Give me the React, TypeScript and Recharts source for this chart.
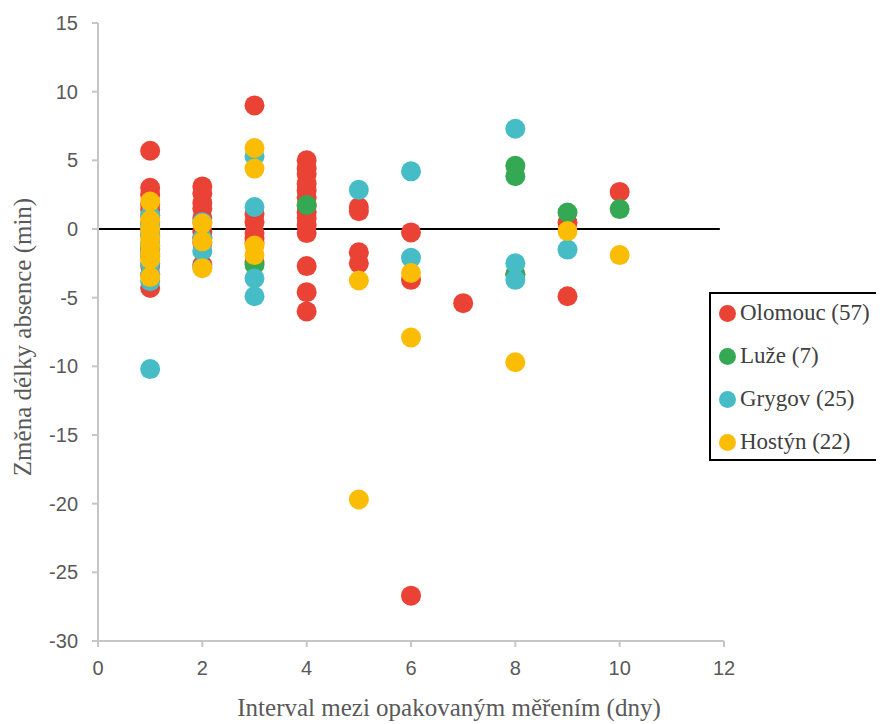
import React from "react";
import { ScatterChart, Scatter, XAxis, YAxis, ReferenceLine, Label } from "recharts";

type P = { x: number; y: number };

const olomouc: P[] = [
  { x: 1, y: 5.7 }, { x: 1, y: 3.0 }, { x: 1, y: 2.5 }, { x: 1, y: 1.8 }, { x: 1, y: 1.4 },
  { x: 1, y: 1.0 }, { x: 1, y: 0.5 }, { x: 1, y: 0.0 }, { x: 1, y: -0.5 }, { x: 1, y: -1.2 },
  { x: 1, y: -1.5 }, { x: 1, y: -2.0 }, { x: 1, y: -2.7 }, { x: 1, y: -3.3 }, { x: 1, y: -4.3 },
  { x: 2, y: 3.1 }, { x: 2, y: 2.6 }, { x: 2, y: 1.9 }, { x: 2, y: 1.5 }, { x: 2, y: 0.8 },
  { x: 2, y: -0.2 }, { x: 2, y: -0.6 }, { x: 2, y: -1.0 }, { x: 2, y: -2.6 },
  { x: 3, y: 9.0 }, { x: 3, y: 1.1 }, { x: 3, y: 0.5 }, { x: 3, y: -0.3 }, { x: 3, y: -0.7 },
  { x: 3, y: -1.0 }, { x: 3, y: -2.4 },
  { x: 4, y: 5.0 }, { x: 4, y: 4.4 }, { x: 4, y: 4.0 }, { x: 4, y: 3.3 }, { x: 4, y: 2.8 },
  { x: 4, y: 2.3 }, { x: 4, y: 1.7 }, { x: 4, y: 1.2 }, { x: 4, y: 0.8 }, { x: 4, y: 0.3 },
  { x: 4, y: -0.3 }, { x: 4, y: -2.7 }, { x: 4, y: -4.6 }, { x: 4, y: -6.0 },
  { x: 5, y: 1.6 }, { x: 5, y: 1.3 }, { x: 5, y: -1.7 }, { x: 5, y: -2.5 },
  { x: 6, y: -0.25 }, { x: 6, y: -3.7 }, { x: 6, y: -26.7 },
  { x: 7, y: -5.4 },
  { x: 8, y: -3.3 },
  { x: 9, y: 0.45 }, { x: 9, y: -4.9 },
  { x: 10, y: 2.7 },
];

const luze: P[] = [
  { x: 3, y: -2.6 }, { x: 4, y: 1.75 }, { x: 8, y: 4.6 }, { x: 8, y: 3.85 },
  { x: 8, y: -3.3 }, { x: 9, y: 1.2 }, { x: 10, y: 1.45 },
];

const grygov: P[] = [
  { x: 1, y: -10.2 }, { x: 1, y: -3.8 }, { x: 1, y: -3.3 }, { x: 1, y: -2.5 }, { x: 1, y: -1.8 },
  { x: 1, y: -1.4 }, { x: 1, y: -1.0 }, { x: 1, y: -0.4 }, { x: 1, y: 0.3 }, { x: 1, y: 1.0 },
  { x: 2, y: -1.6 }, { x: 2, y: -0.7 }, { x: 2, y: 0.5 }, { x: 2, y: -2.8 },
  { x: 3, y: 5.3 }, { x: 3, y: 1.6 }, { x: 3, y: -3.6 }, { x: 3, y: -4.9 },
  { x: 5, y: 2.85 },
  { x: 6, y: 4.2 }, { x: 6, y: -2.1 },
  { x: 8, y: 7.3 }, { x: 8, y: -2.5 }, { x: 8, y: -3.7 },
  { x: 9, y: -1.5 },
];

const hostyn: P[] = [
  { x: 1, y: 2.0 }, { x: 1, y: 0.65 }, { x: 1, y: 0.0 }, { x: 1, y: -0.6 }, { x: 1, y: -1.2 },
  { x: 1, y: -1.8 }, { x: 1, y: -2.2 }, { x: 1, y: -3.5 },
  { x: 2, y: 0.4 }, { x: 2, y: -0.9 }, { x: 2, y: -2.85 },
  { x: 3, y: 5.9 }, { x: 3, y: 4.4 }, { x: 3, y: -1.2 }, { x: 3, y: -1.9 },
  { x: 5, y: -3.75 }, { x: 5, y: -19.7 },
  { x: 6, y: -3.2 }, { x: 6, y: -7.9 },
  { x: 8, y: -9.7 },
  { x: 9, y: -0.15 },
  { x: 10, y: -1.9 },
];

const xTicks = [0, 2, 4, 6, 8, 10, 12];
const yTicks = [-30, -25, -20, -15, -10, -5, 0, 5, 10, 15];

const seriesNames = ["Olomouc (57)", "Luže (7)", "Grygov (25)", "Hostýn (22)"];
const seriesColors = ["#EA4335", "#34A853", "#46BDC6", "#FBBC04"];
const seriesData = [olomouc, luze, grygov, hostyn];

const xTitle = "Interval mezi opakovaným měřením (dny)";
const yTitle = "Změna délky absence (min)";

const axisGrey = "#c6c6c6";
const textGrey = "#595959";
const serif = "Liberation Serif, Tinos, Times New Roman, Times, DejaVu Serif, serif";
const sans = "Liberation Sans, Arial, sans-serif";

const dotShape = (color: string) => (props: any) =>
  <circle cx={props.cx} cy={props.cy} r={10} fill={color} />;

export default function App() {
  return (
    <div style={{ position: "relative", width: 876, height: 716 }}>
      <ScatterChart width={876} height={716} margin={{ top: 15, right: 160, bottom: 0, left: 0 }}>
        <XAxis
          type="number"
          dataKey="x"
          domain={[0, 12]}
          ticks={xTicks}
          interval={0}
          height={83}
          tickSize={6}
          tickMargin={14}
          stroke={axisGrey}
          strokeWidth={2}
          tick={{ fill: textGrey, fontSize: 20, fontFamily: sans }}
        >
          <Label
            content={() => (
              <text x={441} y={699} dy="0.35em" textAnchor="middle" fill={textGrey}
                fontSize={25} style={{ fontFamily: serif }}>{xTitle}</text>
            )}
          />
        </XAxis>
        <YAxis
          type="number"
          dataKey="y"
          domain={[-30, 15]}
          ticks={yTicks}
          interval={0}
          width={90}
          tickSize={6}
          tickMargin={14}
          stroke={axisGrey}
          strokeWidth={2}
          tick={{ fill: textGrey, fontSize: 20, fontFamily: sans }}
        >
          <Label
            content={() => (
              <text x={14} y={329} dy="0.35em" textAnchor="middle" fill={textGrey}
                fontSize={25} style={{ fontFamily: serif }} transform="rotate(-90 14 329)">{yTitle}</text>
            )}
          />
        </YAxis>
        {seriesData.map((d, i) => (
          <Scatter
            key={seriesNames[i]}
            name={seriesNames[i]}
            data={d}
            fill={seriesColors[i]}
            shape={dotShape(seriesColors[i])}
            isAnimationActive={false}
          />
        ))}
        <ReferenceLine
          segment={[{ x: 0, y: 0 }, { x: 11.92, y: 0 }]}
          stroke="#000"
          strokeWidth={2}
          ifOverflow="extendDomain"
        />
      </ScatterChart>
      <div
        style={{
          position: "absolute",
          left: 701,
          top: 284,
          width: 174,
          height: 169,
          boxSizing: "border-box",
          border: "2px solid #000",
          background: "#fff",
          fontFamily: serif,
          fontSize: 23,
          color: "#404040",
        }}
      >
        {seriesNames.map((n, i) => (
          <div
            key={n}
            style={{
              position: "absolute",
              left: 0,
              top: 19 + i * 43 - 14,
              height: 28,
              display: "flex",
              alignItems: "center",
              whiteSpace: "nowrap",
            }}
          >
            <span
              style={{
                display: "inline-block",
                width: 17,
                height: 17,
                borderRadius: "50%",
                background: seriesColors[i],
                marginLeft: 8,
                marginRight: 4,
              }}
            />
            <span>{n}</span>
          </div>
        ))}
      </div>
    </div>
  );
}
